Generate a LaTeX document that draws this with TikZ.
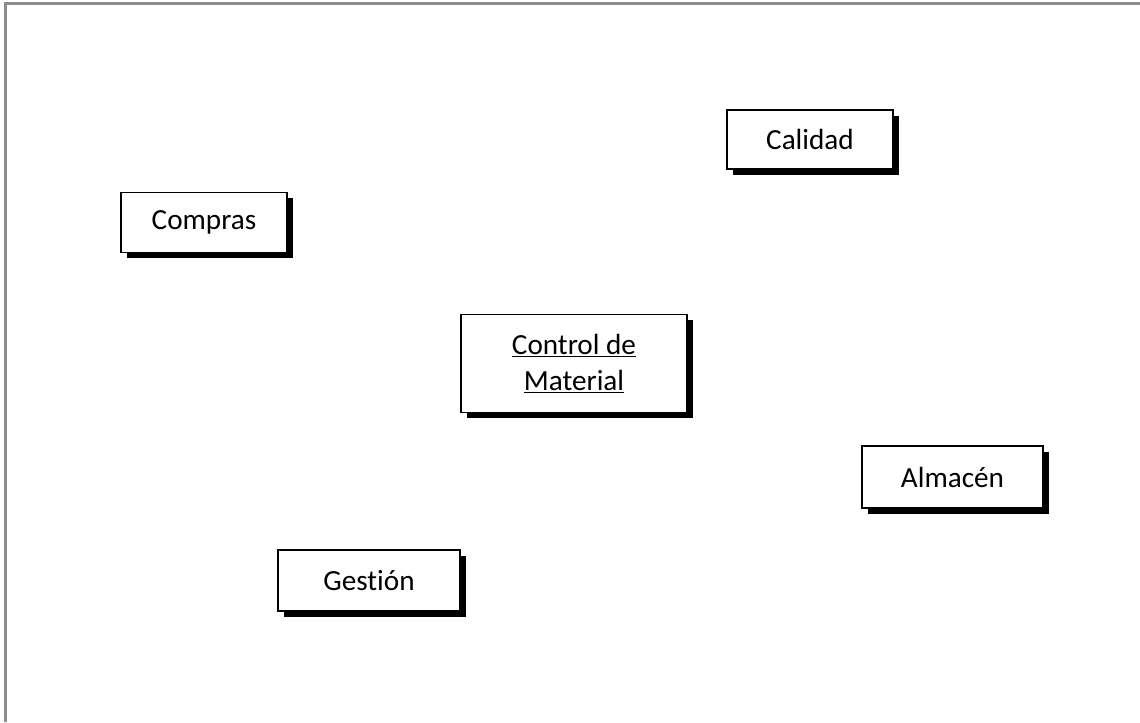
\documentclass[tikz,border=0pt]{standalone}
\usepackage{fontspec}
\setmainfont{Carlito}[Ligatures=CommonOff]
\usetikzlibrary{shadows}
\begin{document}
\begin{tikzpicture}[x=0.75pt,y=-0.75pt,
  box/.style={draw=black, line width=0.8pt, fill=white, inner sep=0pt,
    font=\fontsize{21.9}{27}\selectfont, align=center,
    drop shadow={shadow xshift=4.2pt, shadow yshift=-4.2pt, fill=black, opacity=1}},
  frame/.style={draw=gray!90, line width=1.8pt}]
\useasboundingbox (0,0) rectangle (1140,722);
\coordinate (tl) at (5.5,3.5);
\coordinate (tr) at (1140,3.5);
\coordinate (bl) at (5.5,722);
\draw[frame] (bl) -- (tl) -- (tr);
\node[box, minimum width=166*0.75pt, minimum height=60*0.75pt] (compras) at (204,222.5) {Compras};
\node[box, minimum width=226*0.75pt, minimum height=98*0.75pt] (control) at (574,363.5) {\underline{Control de}\\\underline{Material}};
\node[box, minimum width=166*0.75pt, minimum height=59*0.75pt] (calidad) at (810,139.5) {Calidad};
\node[box, minimum width=181*0.75pt, minimum height=62*0.75pt] (almacen) at (952.5,477) {Almacén};
\node[box, minimum width=182*0.75pt, minimum height=61*0.75pt] (gestion) at (369,580.5) {Gestión};
\end{tikzpicture}
\end{document}
